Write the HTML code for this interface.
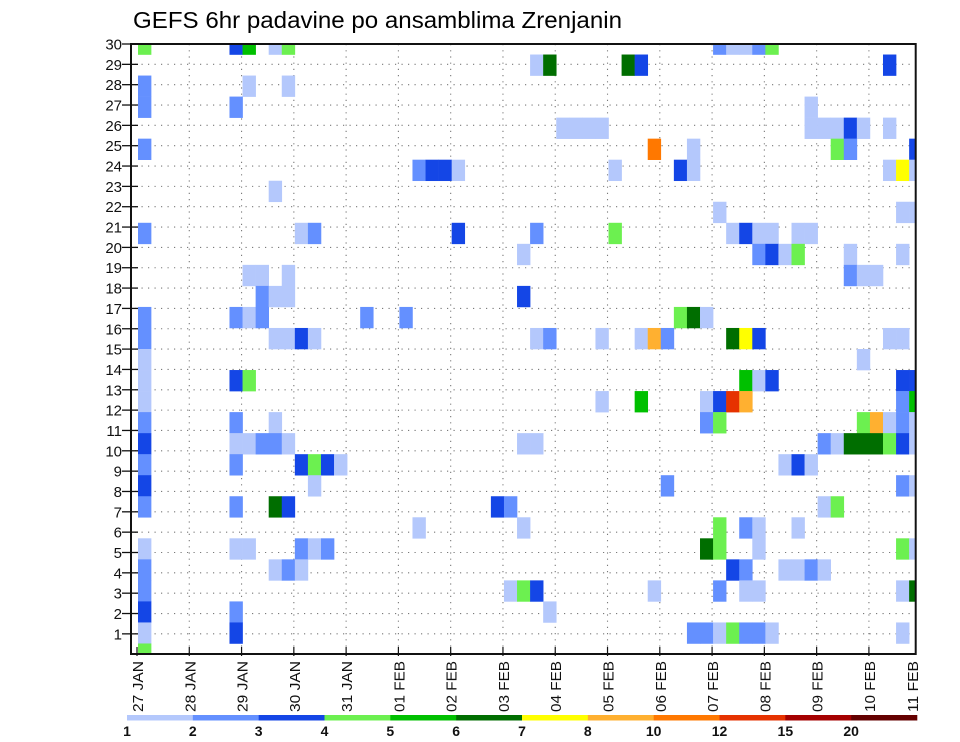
<!DOCTYPE html>
<html><head><meta charset="utf-8"><style>
html,body{margin:0;padding:0;background:#fff}
svg{display:block;font-family:"Liberation Sans",sans-serif}
</style></head><body>
<svg id="chart" width="960" height="742" viewBox="0 0 960 742" xmlns="http://www.w3.org/2000/svg">
<rect x="0" y="0" width="960" height="742" fill="#fff"/>
<text x="133" y="28" font-size="23" textLength="489" lengthAdjust="spacingAndGlyphs" fill="#000">GEFS 6hr padavine po ansamblima Zrenjanin</text>
<g id="grid"></g><g id="cells"></g><g id="axes"></g><g id="legend"></g>
</svg>
<script>
// ---- chart data ----
const memberIds = [30,29,28,27,26,25,24,23,22,21,20,19,18,17,16,15,14,13,12,11,10,9,8,7,6,5,4,3,2,1];
const stepsByMember = [
[0,7,8,10,11,44,45,46,47,48],
[30,31,37,38,57],
[0,8,11],
[0,7,51],
[32,33,34,35,51,52,53,54,55,57],
[0,39,42,53,54,59],
[21,22,23,24,36,41,42,57,58,59],
[10],
[44,58,59],
[0,12,13,24,30,36,45,46,47,48,50,51],
[29,47,48,49,50,54,58],
[8,9,11,54,55,56],
[9,10,11,29],
[0,7,8,9,17,20,41,42,43],
[0,10,11,12,13,30,31,35,38,39,40,45,46,47,57,58],
[0,55],
[0,7,8,46,47,48,58,59],
[0,35,38,43,44,45,46,58,59],
[0,7,10,43,44,55,56,57,58,59],
[0,7,8,9,10,11,29,30,52,53,54,55,56,57,58,59],
[0,7,12,13,14,15,49,50,51],
[0,13,40,58,59],
[0,7,10,11,27,28,52,53],
[21,29,44,46,47,50],
[0,7,8,12,13,14,43,44,47,58,59],
[0,10,11,12,45,46,49,50,51,52],
[0,28,29,30,39,44,46,47,58,59],
[0,7,31],
[0,7,42,43,44,45,46,47,48,58],
[0]
];
const precipByMember = [
[4.5,3.5,5.5,1.5,4.5,2.5,1.5,1.5,2.5,4.5],
[1.5,6.5,6.5,3.5,3.5],
[2.5,1.5,1.5],
[2.5,2.5,1.5],
[1.5,1.5,1.5,1.5,1.5,1.5,1.5,3.5,1.5,1.5],
[2.5,11,1.5,4.5,2.5,3.5],
[2.5,3.5,3.5,1.5,1.5,3.5,1.5,1.5,7.5,1.5],
[1.5],
[1.5,1.5,1.5],
[2.5,1.5,2.5,3.5,2.5,4.5,1.5,3.5,1.5,1.5,1.5,1.5],
[1.5,2.5,3.5,1.5,4.5,1.5,1.5],
[1.5,1.5,1.5,2.5,1.5,1.5],
[2.5,1.5,1.5,3.5],
[2.5,2.5,1.5,2.5,2.5,2.5,4.5,6.5,1.5],
[2.5,1.5,1.5,3.5,1.5,1.5,2.5,1.5,1.5,9,2.5,6.5,7.5,3.5,1.5,1.5],
[1.5,1.5],
[1.5,3.5,4.5,5.5,1.5,3.5,3.5,3.5],
[1.5,1.5,5.5,1.5,3.5,13,9,2.5,5.5],
[2.5,2.5,1.5,2.5,4.5,4.5,9,1.5,2.5,1.5],
[3.5,1.5,1.5,2.5,2.5,1.5,1.5,1.5,2.5,1.5,6.5,6.5,6.5,4.5,3.5,1.5],
[2.5,2.5,3.5,4.5,3.5,1.5,1.5,3.5,1.5],
[3.5,1.5,2.5,2.5,1.5],
[2.5,2.5,6.5,3.5,3.5,2.5,1.5,4.5],
[1.5,1.5,4.5,2.5,1.5,1.5],
[1.5,1.5,1.5,2.5,1.5,2.5,6.5,4.5,1.5,4.5,1.5],
[2.5,1.5,2.5,1.5,3.5,2.5,1.5,1.5,2.5,1.5],
[2.5,1.5,4.5,3.5,1.5,2.5,1.5,1.5,1.5,6.5],
[3.5,2.5,1.5],
[1.5,3.5,2.5,2.5,1.5,4.5,2.5,2.5,1.5,1.5],
[4.5]
];
const levelBounds = [1,2,3,4,5,6,7,8,10,12,15,20];
const levelLabels = ["1","2","3","4","5","6","7","8","10","12","15","20"];
const levelColors = ["#b4c8fc","#6490ff","#1446e6","#6cf050","#00c000","#006e00","#ffff00","#ffb030","#ff7800","#e63200","#a50000","#640000"];
const dateLabels = ["27 JAN","28 JAN","29 JAN","30 JAN","31 JAN","01 FEB","02 FEB","03 FEB","04 FEB","05 FEB","06 FEB","07 FEB","08 FEB","09 FEB","10 FEB","11 FEB"];
const yTickLabels = [1,2,3,4,5,6,7,8,9,10,11,12,13,14,15,16,17,18,19,20,21,22,23,24,25,26,27,28,29,30];

// ---- geometry / scales ----
const NS = "http://www.w3.org/2000/svg";
const PL = 131, PR = 915.7, PT = 44, PB = 654;
const STEP_W = 13.07, DAY_W = 52.28;
function xStep(k){ return 138 + STEP_W * k; }
function xDay(d){ return 137 + DAY_W * d; }
function yMember(m){ return PT + (30 - m) * (PB - PT) / 29; }
function yTick(n){ return PT + (30 - n) * 20.34; }
function colorFor(v){ let c = null; for (let i = 0; i < levelBounds.length; i++){ if (v >= levelBounds[i]) c = levelColors[i]; } return c; }
function mk(tag, attrs, parent){ const e = document.createElementNS(NS, tag); for (const k in attrs) e.setAttribute(k, attrs[k]); parent.appendChild(e); return e; }

const grid = document.getElementById('grid');
const cells = document.getElementById('cells');
const axes = document.getElementById('axes');
const legend = document.getElementById('legend');

// gridlines
for (const n of yTickLabels){
  if (n === 30) continue;
  const y = yTick(n);
  const l = mk('line', {x1: PL + 4, x2: PR, y1: y, y2: y, stroke: '#7a7a7a', 'stroke-width': 1.1, 'stroke-dasharray': '1.2 5.3'}, grid);
  
  
}
for (let d = 1; d < dateLabels.length; d++){
  const x = xDay(d);
  if (x >= PR - 2) continue;
  const l = mk('line', {x1: x, x2: x, y1: PT, y2: PB, stroke: '#7a7a7a', 'stroke-width': 1.1, 'stroke-dasharray': '1.2 5'}, grid);
  
  
}

// cells
const clip = mk('clipPath', {id: 'plotclip'}, mk('defs', {}, document.getElementById('chart')));
mk('rect', {x: PL, y: PT, width: PR - PL, height: PB - PT}, clip);
cells.setAttribute('clip-path', 'url(#plotclip)');
const rowH = (PB - PT) / 29;
memberIds.forEach((m, i) => {
  const steps = stepsByMember[i], vals = precipByMember[i];
  steps.forEach((k, j) => {
    const c = colorFor(vals[j]);
    if (!c) return;
    const r = mk('rect', {x: xStep(k), y: yMember(m) - rowH / 2, width: STEP_W + 0.3, height: rowH + 0.3, fill: c}, cells);
    
    
  });
});

// axes frame
const frame = mk('rect', {x: PL, y: PT, width: PR - PL, height: PB - PT, fill: 'none', stroke: '#111', 'stroke-width': 2}, axes);



// y ticks & labels
for (const n of yTickLabels){
  const y = yTick(n);
  mk('line', {x1: PL - 9, x2: PL + 7, y1: y, y2: y, stroke: '#111', 'stroke-width': 1.3}, axes);
  const t = mk('text', {x: 122, y: y + 5.5, 'font-size': 15, 'text-anchor': 'end', fill: '#111'}, axes);
  t.textContent = String(n);
  
  
}

// x ticks & date labels
dateLabels.forEach((lab, d) => {
  let x = xDay(d);
  if (x < PR - 2) mk('line', {x1: x, x2: x, y1: PB - 7, y2: PB + 2, stroke: '#111', 'stroke-width': 1.2}, axes);
  if (x > 912) x = 912;
  const t = mk('text', {transform: 'translate(' + (x + 6) + ',661) rotate(-90)', 'font-size': 15, 'text-anchor': 'end', fill: '#111', textLength: 51, lengthAdjust: 'spacingAndGlyphs'}, axes);
  t.textContent = lab;
  
  
});

// colorbar legend
const LX0 = 127, LX1 = 917, segW = (LX1 - LX0) / levelColors.length;
levelColors.forEach((c, i) => {
  const r = mk('rect', {x: LX0 + i * segW, y: 715, width: segW + 0.3, height: 5.5, fill: c}, legend);
  
  
});
levelLabels.forEach((lab, i) => {
  const t = mk('text', {x: LX0 + i * segW, y: 736, 'font-size': 14, 'font-weight': 'bold', 'text-anchor': 'middle', fill: '#111'}, legend);
  t.textContent = lab;
  
  
});
</script>
</body></html>
